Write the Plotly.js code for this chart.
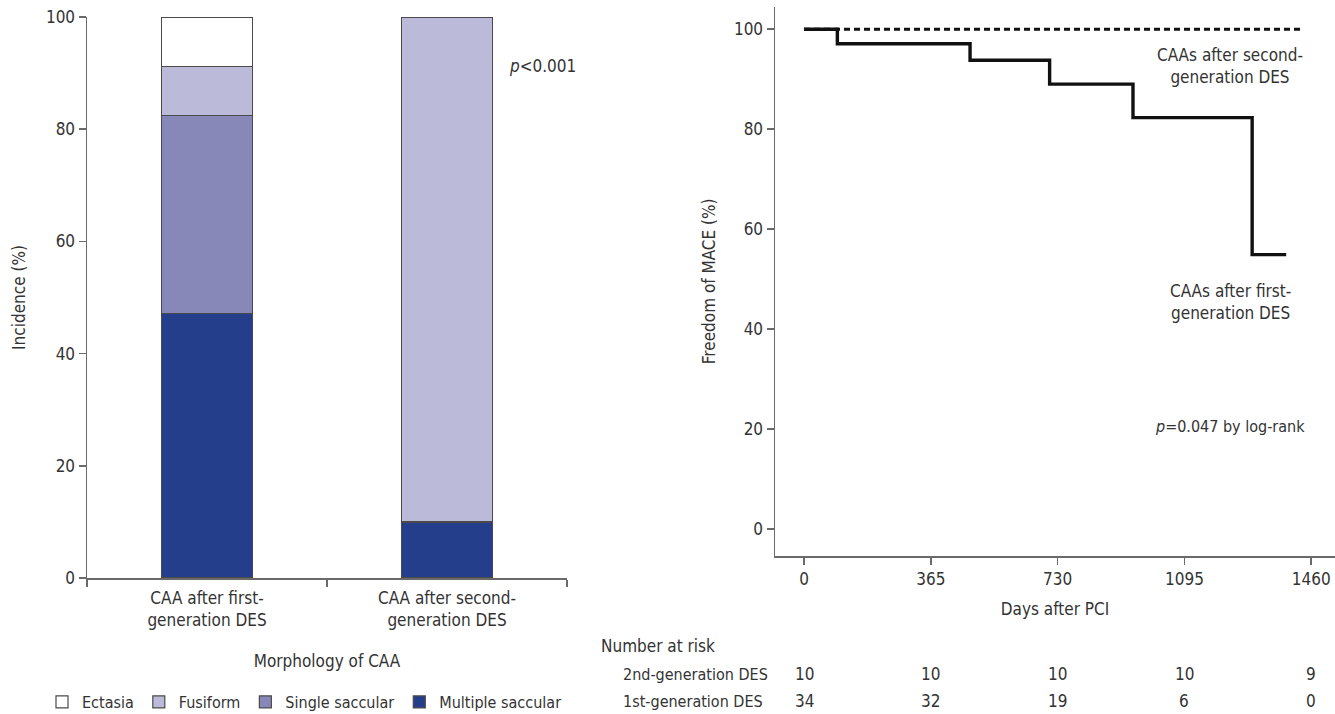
<!DOCTYPE html>
<html>
<head>
<meta charset="utf-8">
<script src="https://cdn.plot.ly/plotly-3.0.1.min.js"></script>
<style>html,body{margin:0;padding:0;background:#fff;}#chart{width:1335px;height:714px;}</style>
</head>
<body>
<div id="chart"></div>
<script>
// ---- Data: left panel (morphology of CAA, %)
const categories = ["CAA after first-<br>generation DES", "CAA after second-<br>generation DES"];
const multipleSaccular = [47.1, 10.0];
const singleSaccular = [35.3, 0];
const fusiform = [8.8, 90.0];
const ectasia = [8.8, 0];

// ---- Data: right panel (Kaplan-Meier, freedom from MACE %)
const km1Days = [0, 96, 478, 707, 947, 1290, 1388];
const km1Surv = [100, 97.1, 93.8, 89.0, 82.3, 54.9, 54.9];
const km2Days = [0, 1439];
const km2Surv = [100, 100];

// ---- Number at risk
const riskDays = [0, 365, 730, 1095, 1460];
const risk2nd = [10, 10, 10, 10, 9];
const risk1st = [34, 32, 19, 6, 0];
const xTicks = [0, 365, 730, 1095, 1460];
const yTicks = [0, 20, 40, 60, 80, 100];

const W = 1335, H = 714;
const FONT = "'Liberation Sans Narrow', 'DejaVu Sans Condensed', 'Arial Narrow', sans-serif";
const FS = 17;
const TXT = "#333333";
const AX = "#6a6a6a";
const px = v => v / W;
const py = v => 1 - v / H;
const f = (s) => ({family: FONT, size: s || FS, color: TXT});

const barLine = {color: "#4a4a4a", width: 1.2};
const traces = [
  {type: "bar", name: "Multiple saccular", x: categories, y: multipleSaccular, xaxis: "x", yaxis: "y",
   marker: {color: "#253e8c", line: barLine}, width: 0.38},
  {type: "bar", name: "Single saccular", x: categories, y: singleSaccular, xaxis: "x", yaxis: "y",
   marker: {color: "#8788b8", line: barLine}, width: 0.38},
  {type: "bar", name: "Fusiform", x: categories, y: fusiform, xaxis: "x", yaxis: "y",
   marker: {color: "#bbbbd9", line: barLine}, width: 0.38},
  {type: "bar", name: "Ectasia", x: categories, y: ectasia, xaxis: "x", yaxis: "y",
   marker: {color: "#ffffff", line: barLine}, width: 0.38},
  {type: "scatter", mode: "lines", name: "CAAs after second-generation DES", x: km2Days, y: km2Surv,
   xaxis: "x2", yaxis: "y2", line: {color: "#111", width: 3, dash: "6px,4px", shape: "hv"}, showlegend: false},
  {type: "scatter", mode: "lines", name: "CAAs after first-generation DES", x: km1Days, y: km1Surv,
   xaxis: "x2", yaxis: "y2", line: {color: "#111", width: 3.4, shape: "hv"}, showlegend: false}
];

const annotations = [
  {xref: "paper", yref: "paper", x: px(507), y: py(66), xanchor: "left", yanchor: "middle",
   text: "<i>p</i>&lt;0.001", showarrow: false, font: f()},
  {xref: "paper", yref: "paper", x: px(1230), y: py(65.5), xanchor: "center", yanchor: "middle",
   text: "CAAs after second-<br>generation DES", showarrow: false, font: f()},
  {xref: "paper", yref: "paper", x: px(1230), y: py(301.5), xanchor: "center", yanchor: "middle",
   text: "CAAs after first-<br>generation DES", showarrow: false, font: f()},
  {xref: "paper", yref: "paper", x: px(1153), y: py(426), xanchor: "left", yanchor: "middle",
   text: "<i>p</i>=0.047 by log-rank", showarrow: false, font: f(16)},
  {xref: "paper", yref: "paper", x: px(599), y: py(646), xanchor: "left", yanchor: "middle",
   text: "Number at risk", showarrow: false, font: f()},
  {xref: "paper", yref: "paper", x: px(621), y: py(674), xanchor: "left", yanchor: "middle",
   text: "2nd-generation DES", showarrow: false, font: f(16)},
  {xref: "paper", yref: "paper", x: px(621), y: py(701), xanchor: "left", yanchor: "middle",
   text: "1st-generation DES", showarrow: false, font: f(16)}
];
riskDays.forEach((d, i) => {
  annotations.push({xref: "x2", yref: "paper", x: d, y: py(674), xanchor: "center", yanchor: "middle",
    text: String(risk2nd[i]), showarrow: false, font: f()});
  annotations.push({xref: "x2", yref: "paper", x: d, y: py(701), xanchor: "center", yanchor: "middle",
    text: String(risk1st[i]), showarrow: false, font: f()});
});

const axisCommon = {
  showline: true, linecolor: AX, linewidth: 1.5, ticks: "outside", ticklen: 7, tickwidth: 1.5,
  tickcolor: AX, showgrid: false, zeroline: false, tickfont: f(), automargin: false,
  fixedrange: true
};

const layout = {
  width: W, height: H,
  margin: {l: 0, r: 0, t: 0, b: 0, pad: 0, autoexpand: false},
  paper_bgcolor: "#fff", plot_bgcolor: "#fff",
  font: f(),
  barmode: "stack",
  showlegend: true,
  legend: {orientation: "h", traceorder: "reversed",
    x: px(42), y: py(702), xanchor: "left", yanchor: "middle",
    font: f(16), bgcolor: "rgba(0,0,0,0)", itemclick: false, itemdoubleclick: false},
  xaxis: Object.assign({}, axisCommon, {
    domain: [px(87), px(567)], anchor: "y", type: "category", range: [-0.5, 1.5], tickson: "boundaries",
    ticklabelstandoff: 4,
    title: {text: "Morphology of CAA", font: f(), standoff: 26}
  }),
  yaxis: Object.assign({}, axisCommon, {
    domain: [py(578), py(17)], anchor: "x", range: [0, 100], tickvals: yTicks,
    title: {text: "Incidence (%)", font: f(), standoff: 16}
  }),
  xaxis2: Object.assign({}, axisCommon, {
    domain: [px(775), 1], anchor: "y2", range: [-83.5, 1528.5], tickvals: xTicks,
    title: {text: "Days after PCI", font: f(), standoff: 15}
  }),
  yaxis2: Object.assign({}, axisCommon, {
    domain: [py(556), py(6.7)], anchor: "x2", range: [-5.4, 104.5], tickvals: yTicks,
    title: {text: "Freedom of MACE (%)", font: f(), standoff: 14}
  }),
  annotations: annotations
};

Plotly.newPlot("chart", traces, layout, {displayModeBar: false, staticPlot: true});
</script>
</body>
</html>
